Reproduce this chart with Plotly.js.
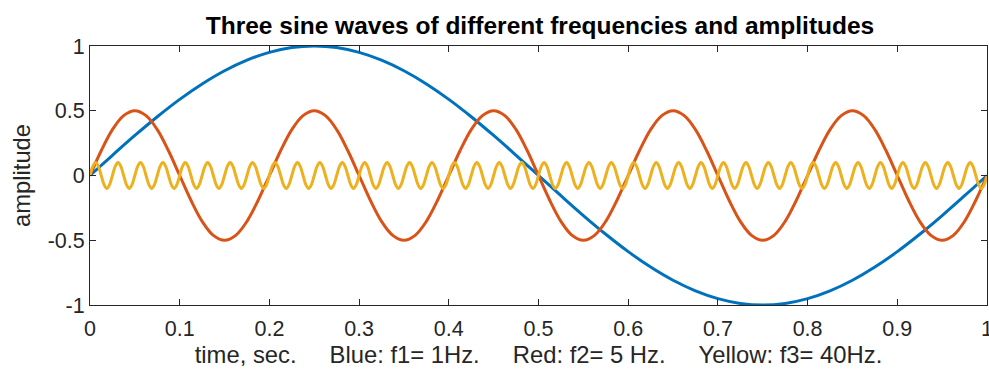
<!DOCTYPE html>
<html>
<head>
<meta charset="utf-8">
<script src="https://cdn.plot.ly/plotly-3.0.1.min.js"></script>
<style>html,body{margin:0;padding:0;background:#fff;}#chart{width:989px;height:371px;}</style>
</head>
<body>
<div id="chart"></div>
<script>
const blueStep = 0.025;   // seconds between blue samples, starting at t = 0
const blueValues = [0, 0.156, 0.309, 0.454, 0.588, 0.707, 0.809, 0.891, 0.951, 0.988, 1,
  0.988, 0.951, 0.891, 0.809, 0.707, 0.588, 0.454, 0.309, 0.156, 0,
  -0.156, -0.309, -0.454, -0.588, -0.707, -0.809, -0.891, -0.951, -0.988, -1,
  -0.988, -0.951, -0.891, -0.809, -0.707, -0.588, -0.454, -0.309, -0.156, 0];

const redStep = 0.0125;
const redValues = [
  0, 0.191, 0.354, 0.462, 0.5, 0.462, 0.354, 0.191, 0, -0.191, -0.354, -0.462, -0.5, -0.462, -0.354, -0.191,
  0, 0.191, 0.354, 0.462, 0.5, 0.462, 0.354, 0.191, 0, -0.191, -0.354, -0.462, -0.5, -0.462, -0.354, -0.191,
  0, 0.191, 0.354, 0.462, 0.5, 0.462, 0.354, 0.191, 0, -0.191, -0.354, -0.462, -0.5, -0.462, -0.354, -0.191,
  0, 0.191, 0.354, 0.462, 0.5, 0.462, 0.354, 0.191, 0, -0.191, -0.354, -0.462, -0.5, -0.462, -0.354, -0.191,
  0, 0.191, 0.354, 0.462, 0.5, 0.462, 0.354, 0.191, 0, -0.191, -0.354, -0.462, -0.5, -0.462, -0.354, -0.191,
  0];

const yellowStep = 0.003125;
const yellowValues = [
  0,.07,.1,.07,0,-.07,-.1,-.07, 0,.07,.1,.07,0,-.07,-.1,-.07, 0,.07,.1,.07,0,-.07,-.1,-.07, 0,.07,.1,.07,0,-.07,-.1,-.07,
  0,.07,.1,.07,0,-.07,-.1,-.07, 0,.07,.1,.07,0,-.07,-.1,-.07, 0,.07,.1,.07,0,-.07,-.1,-.07, 0,.07,.1,.07,0,-.07,-.1,-.07,
  0,.07,.1,.07,0,-.07,-.1,-.07, 0,.07,.1,.07,0,-.07,-.1,-.07, 0,.07,.1,.07,0,-.07,-.1,-.07, 0,.07,.1,.07,0,-.07,-.1,-.07,
  0,.07,.1,.07,0,-.07,-.1,-.07, 0,.07,.1,.07,0,-.07,-.1,-.07, 0,.07,.1,.07,0,-.07,-.1,-.07, 0,.07,.1,.07,0,-.07,-.1,-.07,
  0,.07,.1,.07,0,-.07,-.1,-.07, 0,.07,.1,.07,0,-.07,-.1,-.07, 0,.07,.1,.07,0,-.07,-.1,-.07, 0,.07,.1,.07,0,-.07,-.1,-.07,
  0,.07,.1,.07,0,-.07,-.1,-.07, 0,.07,.1,.07,0,-.07,-.1,-.07, 0,.07,.1,.07,0,-.07,-.1,-.07, 0,.07,.1,.07,0,-.07,-.1,-.07,
  0,.07,.1,.07,0,-.07,-.1,-.07, 0,.07,.1,.07,0,-.07,-.1,-.07, 0,.07,.1,.07,0,-.07,-.1,-.07, 0,.07,.1,.07,0,-.07,-.1,-.07,
  0,.07,.1,.07,0,-.07,-.1,-.07, 0,.07,.1,.07,0,-.07,-.1,-.07, 0,.07,.1,.07,0,-.07,-.1,-.07, 0,.07,.1,.07,0,-.07,-.1,-.07,
  0,.07,.1,.07,0,-.07,-.1,-.07, 0,.07,.1,.07,0,-.07,-.1,-.07, 0,.07,.1,.07,0,-.07,-.1,-.07, 0,.07,.1,.07,0,-.07,-.1,-.07,
  0,.07,.1,.07,0,-.07,-.1,-.07, 0,.07,.1,.07,0,-.07,-.1,-.07, 0,.07,.1,.07,0,-.07,-.1,-.07, 0,.07,.1,.07,0,-.07,-.1,-.07,
  0];

const xTickVals = [0, 0.1, 0.2, 0.3, 0.4, 0.5, 0.6, 0.7, 0.8, 0.9, 1];
const xTickText = ["0", "0.1", "0.2", "0.3", "0.4", "0.5", "0.6", "0.7", "0.8", "0.9", "1"];
const yTickVals = [-1, -0.5, 0, 0.5, 1];
const yTickText = ["-1", "-0.5", "0", "0.5", "1"];

const titleText = "Three sine waves of different frequencies and amplitudes";
const xTitleText = "time, sec.\u00A0\u00A0\u00A0\u00A0\u00A0Blue: f1= 1Hz.\u00A0\u00A0\u00A0\u00A0\u00A0Red: f2= 5 Hz.\u00A0\u00A0\u00A0\u00A0\u00A0Yellow: f3= 40Hz.";
const yTitleText = "amplitude";

const FONT = "Liberation Sans, Arial, Helvetica, sans-serif";
const INK = "#262626";

const traces = [
  {y: blueValues, x0: 0, dx: blueStep, type: "scatter", mode: "lines",
   line: {color: "#0072BD", width: 3, shape: "spline"}},
  {y: redValues, x0: 0, dx: redStep, type: "scatter", mode: "lines",
   line: {color: "#D95319", width: 3, shape: "spline"}},
  {y: yellowValues, x0: 0, dx: yellowStep, type: "scatter", mode: "lines",
   line: {color: "#EDB120", width: 3, shape: "spline"}}
];

const axisCommon = {
  showline: true, linecolor: INK, linewidth: 1, mirror: "ticks",
  ticks: "inside", ticklen: 6, tickcolor: INK, tickwidth: 1,
  showgrid: false, zeroline: false, ticklabeloverflow: "allow",
  tickfont: {family: FONT, size: 21.5, color: INK}
};

const layout = {
  width: 989, height: 371,
  margin: {l: 90, r: 2, t: 46, b: 66, pad: 0},
  paper_bgcolor: "#fff", plot_bgcolor: "#fff",
  showlegend: false,
  font: {family: FONT, color: INK},
  title: {text: "<b>" + titleText + "</b>", font: {family: FONT, size: 24.5, color: "#000"},
          x: 540/989, xanchor: "center", y: 1 - 25/371, yanchor: "middle", yref: "container"},
  xaxis: Object.assign({}, axisCommon, {
    range: [0, 1], tickvals: xTickVals, ticktext: xTickText, automargin: false,
    ticklabelstandoff: 4,
    title: {text: xTitleText, font: {family: FONT, size: 23.8, color: INK}, standoff: 0}
  }),
  yaxis: Object.assign({}, axisCommon, {
    range: [-1, 1], tickvals: yTickVals, ticktext: yTickText, automargin: false,
    title: {text: yTitleText, font: {family: FONT, size: 23.8, color: INK}, standoff: 10}
  })
};

Plotly.newPlot("chart", traces, layout, {staticPlot: true, displayModeBar: false});
</script>
</body>
</html>
